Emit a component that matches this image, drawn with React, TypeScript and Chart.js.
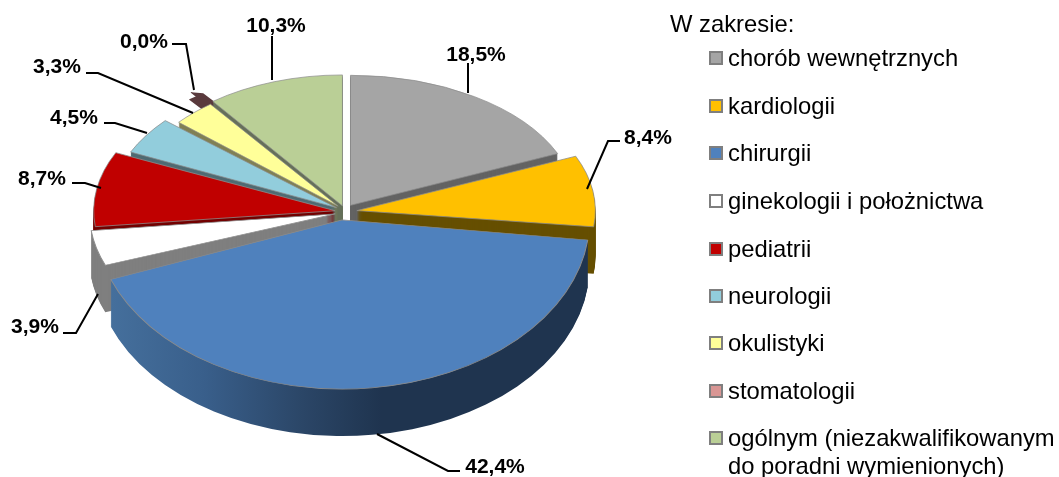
import React, { useEffect, useRef } from "react";
import { Chart, registerables } from "chart.js";

Chart.register(...registerables);

const categories = [
  "chorób wewnętrznych",
  "kardiologii",
  "chirurgii",
  "ginekologii i położnictwa",
  "pediatrii",
  "neurologii",
  "okulistyki",
  "stomatologii",
  "ogólnym (niezakwalifikowanym",
];
const values = [18.5, 8.4, 42.4, 3.9, 8.7, 4.5, 3.3, 0.04, 10.3];
const legendTitle = "W zakresie:";
const legendExtraLine = "do poradni wymienionych)";

const topColors = ["#a5a5a5", "#ffc000", "#4f81bd", "#ffffff", "#c00000", "#92cddc", "#ffff99", "#5a3a3d", "#bacf96"];
const legendColors = ["#a5a5a5", "#ffc000", "#4f81bd", "#ffffff", "#c00000", "#92cddc", "#ffff99", "#d99694", "#bacf96"];
const wallColors = ["#636363", "#664f00", "#1f344f", "#7f7f7f", "#730000", "#4f6b73", "#808055", "#5a3a3d", "#66705a"];

// 3D look: squash, explosion and paint order of each slice
const scaleX = [1.155, 1.22, 1.265, 1.257, 1.235, 1.16, 1.08, 1.16, 1.1];
const scaleY = [0.665, 0.7, 0.865, 0.745, 0.71, 0.68, 0.655, 0.66, 0.67];
const explode = [10, 12, 10, 10, 10, 10, 10, 20, 8];
const nudgeX = [0, 0, -4, 0, 0, 0, 0, 0, 0];
const paintOrder = [7, 8, 0, 6, 5, 1, 4, 3, 2];
const WALL = 47;
const EXPLODE_Y = 0.8;

const labelBoxes = [
  { x: 476, y: 55, line: [[468, 63], [468, 93]] },
  { x: 648, y: 138, line: [[620, 141], [608, 141], [587, 189]] },
  { x: 495, y: 467, line: [[460, 471], [448, 471], [377, 434]] },
  { x: 35, y: 327, line: [[63, 333], [76, 333], [98, 294]] },
  { x: 42, y: 179, line: [[72, 183], [85, 183], [101, 188]] },
  { x: 74, y: 118, line: [[104, 123], [115, 123], [147, 133]] },
  { x: 57, y: 67, line: [[86, 73], [98, 73], [193, 113]] },
  { x: 144, y: 42, line: [[172, 44], [186, 44], [194, 90]] },
  { x: 276, y: 26, line: [[272, 36], [272, 80]] },
];
const legendRows = [58, 106, 153, 201, 249, 296, 343, 391, 438];

const pctText = (v: number) => v.toFixed(1).replace(".", ",") + "%";

const piePlugin = {
  id: "pie3d",
  beforeDatasetsDraw(chart: any) {
    const ctx: CanvasRenderingContext2D = chart.ctx;
    const arcs = chart.getDatasetMeta(0).data;
    for (const i of paintOrder) {
      const arc = arcs[i];
      const base = arc.options;
      const mid = (arc.startAngle + arc.endAngle) / 2;
      const ex = Math.cos(mid) * explode[i] + nudgeX[i];
      const ey = Math.sin(mid) * explode[i] * EXPLODE_Y;
      const place = (dy: number) => {
        ctx.translate(arc.x + ex, arc.y + ey + dy);
        ctx.scale(scaleX[i], scaleY[i]);
        ctx.translate(-arc.x, -arc.y);
      };
      let wallFill: any = wallColors[i];
      if (i === 2) {
        const r = arc.outerRadius;
        const g = ctx.createLinearGradient(arc.x - r, 0, arc.x + r, 0);
        g.addColorStop(0, "#47729f");
        g.addColorStop(0.22, "#395f8b");
        g.addColorStop(0.42, "#2b4667");
        g.addColorStop(0.58, "#1f344f");
        g.addColorStop(1, "#1f344f");
        wallFill = g;
      }
      arc.options = { ...base, backgroundColor: wallFill, borderWidth: i === 7 ? base.borderWidth : 0, borderColor: wallColors[i] };
      for (let d = i === 7 ? 0 : WALL; d >= 1; d--) {
        ctx.save();
        place(d);
        arc.draw(ctx);
        ctx.restore();
      }
      arc.options = base;
      ctx.save();
      place(0);
      arc.draw(ctx);
      ctx.restore();
    }
    return false;
  },
  afterDraw(chart: any) {
    const ctx: CanvasRenderingContext2D = chart.ctx;
    const data = chart.data.datasets[0].data as number[];
    ctx.save();
    ctx.textBaseline = "middle";
    // data labels and leader lines
    labelBoxes.forEach((b, i) => {
      ctx.beginPath();
      b.line.forEach((p, k) => (k ? ctx.lineTo(p[0], p[1]) : ctx.moveTo(p[0], p[1])));
      ctx.strokeStyle = "#000";
      ctx.lineWidth = 2;
      ctx.stroke();
      ctx.fillStyle = "#000";
      ctx.font = 'bold 21px "Liberation Sans"';
      ctx.textAlign = "center";
      ctx.fillText(pctText(data[i]), b.x, b.y);
    });
    // legend
    ctx.textAlign = "left";
    ctx.font = '23.8px "Liberation Sans"';
    ctx.fillStyle = "#000";
    ctx.fillText(legendTitle, 670, 25);
    (chart.data.labels as string[]).forEach((label, i) => {
      const y = legendRows[i];
      ctx.fillStyle = legendColors[i];
      ctx.fillRect(710, y - 6, 12, 12);
      ctx.strokeStyle = "#7f7f7f";
      ctx.lineWidth = 2;
      ctx.strokeRect(710, y - 6, 12, 12);
      ctx.fillStyle = "#000";
      ctx.fillText(label, 728, y + 1);
    });
    ctx.fillText(legendExtraLine, 728, 467);
    ctx.restore();
  },
};

export default function App() {
  const ref = useRef<HTMLCanvasElement>(null);
  useEffect(() => {
    const chart = new Chart(ref.current!, {
      type: "pie",
      data: {
        labels: categories,
        datasets: [
          {
            data: values,
            backgroundColor: topColors,
            borderColor: topColors.map((c, i) => (i === 7 ? "#5a3a3d" : "#8c8c8c")),
            borderWidth: topColors.map((c, i) => (i === 7 ? 15 : 0.8)),
          },
        ],
      },
      options: {
        responsive: false,
        animation: false,
        layout: { padding: { left: 142, right: 511, top: 9, bottom: 62 } },
        plugins: { legend: { display: false }, tooltip: { enabled: false }, title: { display: false } },
      },
      plugins: [piePlugin],
    } as any);
    return () => chart.destroy();
  }, []);
  return (
    <canvas
      ref={ref}
      width={1059}
      height={477}
      style={{ position: "fixed", left: 0, top: 0, display: "block", background: "#fff" }}
    />
  );
}
